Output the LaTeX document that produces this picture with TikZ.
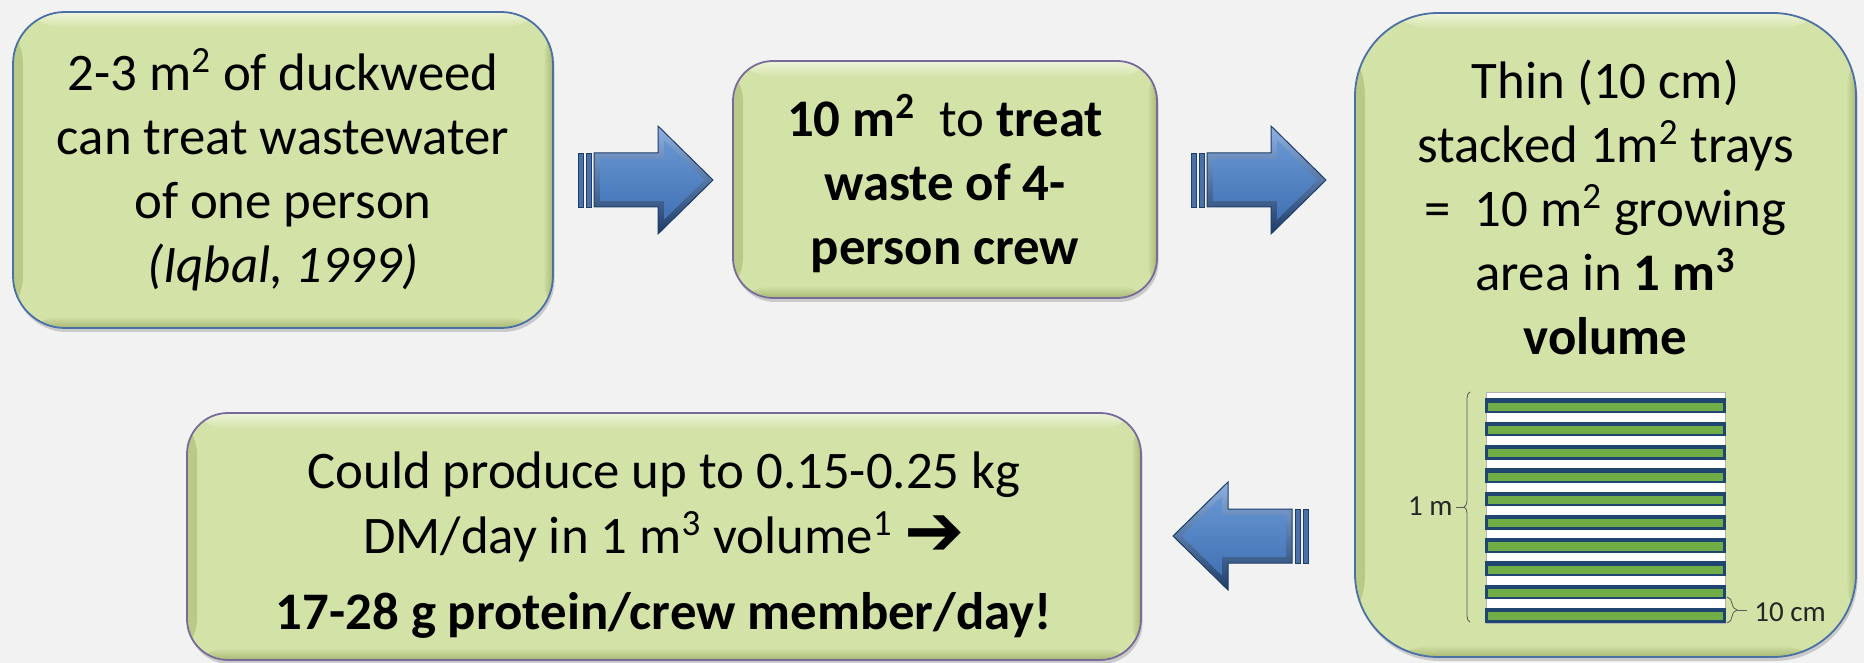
\documentclass[tikz,border=0pt]{standalone}
\usepackage{fontspec}
\setmainfont{Carlito}
\newfontfamily\dejavu{DejaVu Sans}
\usetikzlibrary{shadows,decorations.pathreplacing,calc}
\definecolor{bg}{HTML}{F2F2F2}
\definecolor{boxfill}{HTML}{D3E2A7}
\definecolor{boxdark}{HTML}{A7B873}
\definecolor{boxlight}{HTML}{EEF5DA}
\definecolor{edgeblue}{HTML}{4A70A6}
\definecolor{edgepurple}{HTML}{7A6A9C}
\definecolor{arrowlight}{HTML}{8FB2E2}
\definecolor{arrowdark}{HTML}{1E3D69}
\definecolor{arrowface}{HTML}{6795D2}
\definecolor{arrowfacedk}{HTML}{4272B4}
\definecolor{trayblue}{HTML}{1F4670}
\definecolor{traygreen}{HTML}{70AD47}
\definecolor{labelgray}{HTML}{262626}
\tikzset{
  flowbox/.style 2 args={rectangle, rounded corners=#1, draw=#2, fill=boxfill,
    line width=0.9pt, inner sep=0pt,
    drop shadow={shadow xshift=0.8pt, shadow yshift=-2pt, opacity=0.35},
    path picture={
      \shade[left color=boxdark!60!boxfill, right color=boxfill]
        (path picture bounding box.south west) rectangle ([xshift=5pt]path picture bounding box.north west);
      \shade[left color=boxfill, right color=boxdark]
        ([xshift=-5pt]path picture bounding box.south east) rectangle (path picture bounding box.north east);
      \shade[top color=boxlight, bottom color=boxfill]
        (path picture bounding box.north west) rectangle ([yshift=-8pt]path picture bounding box.north east);
      \shade[top color=boxfill, bottom color=boxdark]
        ([yshift=6pt]path picture bounding box.south west) rectangle (path picture bounding box.south east);
    }},
  boxtext/.style={align=center, font=\fontsize{26.4}{32}\selectfont, inner sep=0pt},
  smalllabel/.style={font=\fontsize{14.5}{17}\selectfont, inner sep=0pt, text=labelgray},
  dimline/.style={draw=gray!70!black, line width=0.4pt},
}
\newcommand\myblockarrow{%
  \filldraw[fill=arrowface!60!arrowdark, draw=arrowdark, line width=0.4pt] (0,-27) rectangle (5,27);
  \filldraw[fill=arrowface!60!arrowdark, draw=arrowdark, line width=0.4pt] (8,-27) rectangle (13,27);
  \shade[top color=arrowlight, bottom color=arrowdark]
    (16,-27) -- (80,-27) -- (80,-54) -- (135,0) -- (80,54) -- (80,27) -- (16,27) -- cycle;
  \shade[top color=arrowface, bottom color=arrowfacedk]
    (22,-21) -- (86,-21) -- (86,-39.7) -- (126.4,0) -- (86,39.7) -- (86,21) -- (22,21) -- cycle;
  \draw[arrowdark, line width=0.5pt]
    (16,-27) -- (80,-27) -- (80,-54) -- (135,0) -- (80,54) -- (80,27) -- (16,27) -- cycle;
}
\begin{document}
\begin{tikzpicture}[x=0.5pt,y=-0.5pt]
\fill[bg] (0,0) rectangle (1864,663);
\useasboundingbox (0,0) rectangle (1864,663);

% boxes
\node (b1) [flowbox={26pt}{edgeblue}, minimum width=270pt, minimum height=158pt] at (283,170) {};
\node (b2) [flowbox={20pt}{edgepurple}, minimum width=212pt, minimum height=118.5pt] at (945,179.5) {};
\node (b3) [flowbox={41.5pt}{edgeblue}, minimum width=250.5pt, minimum height=322pt] at (1605.5,335) {};
\node (b4) [flowbox={20.5pt}{edgepurple}, minimum width=477pt, minimum height=123.5pt] at (664,536.5) {};

% texts
\node (t1) [boxtext] at (283,170) {2-3 m\textsuperscript{2} of duckweed\\ can treat wastewater\\ of one person\\ \textit{(Iqbal, 1999)}};
\node (t2) [boxtext] at (945,184) {\textbf{10 m\textsuperscript{2}}\ \ to \textbf{treat}\\ \textbf{waste of 4-}\\ \textbf{person crew}};
\node (t3) [boxtext] at (1605.5,207.5) {Thin (10 cm)\\ stacked 1m\textsuperscript{2} trays\\ =\ \ 10 m\textsuperscript{2} growing\\ area in \textbf{1 m\textsuperscript{3}}\\ \textbf{volume}};
\node (t4) [boxtext, font=\fontsize{26.4}{32.5}\selectfont] at (664,545) {Could produce up to 0.15-0.25 kg\\ DM/day in 1 m\textsuperscript{3} volume\textsuperscript{1} {\dejavu\bfseries\fontsize{36}{36}\selectfont\raisebox{-1pt}{➔}}\\[5.5pt] \textbf{17-28 g protein/crew member/day!}};

% block arrows
\begin{scope}[shift={(578,180)}] \myblockarrow \end{scope}
\begin{scope}[shift={(1191,180)}] \myblockarrow \end{scope}
\begin{scope}[shift={(1308,536)}, xscale=-1] \myblockarrow \end{scope}

% tray stack
\filldraw[fill=white, draw=gray!60, line width=0.3pt] (1486,392) rectangle (1725,623);
\foreach \i in {0,...,9}{
  \pgfmathsetmacro\ya{398.3+23.3*\i}
  \pgfmathsetmacro\yb{\ya+14.7}
  \fill[trayblue] (1485,\ya) rectangle (1726,\yb);
  \fill[traygreen] (1488,{\ya+4.3}) rectangle (1723,{\yb-2.3});
}
\draw[dimline, decorate, decoration={brace, amplitude=3pt}] (1470,622) -- (1470,392);
\coordinate (tipL) at (1464,507);
\coordinate (dashL) at (1456,507);
\draw[dimline] (tipL) -- (dashL);
\node (lbl1m) [smalllabel, anchor=east] at (1453,506) {1 m};
\draw[dimline, decorate, decoration={brace, amplitude=5pt}] (1727,597) -- (1727,623);
\coordinate (tipR) at (1737,610);
\coordinate (dashR) at (1747,610);
\draw[dimline] (tipR) -- (dashR);
\node (lbl10) [smalllabel, anchor=west] at (1754,612) {10 cm};
\end{tikzpicture}
\end{document}
